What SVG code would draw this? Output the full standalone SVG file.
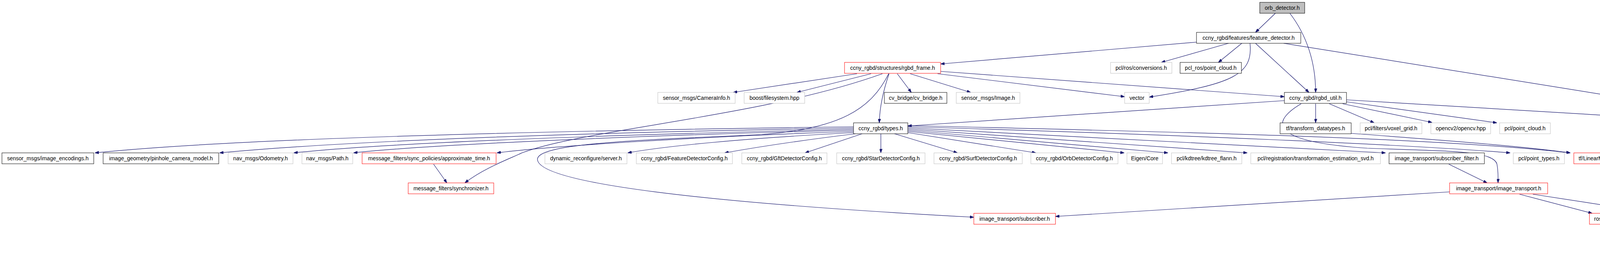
<svg xmlns="http://www.w3.org/2000/svg" width="5365" height="659" viewBox="0 0 5365 659">
<style>
rect{fill:#fff;stroke:#000;stroke-width:1}
.g rect{stroke:#bfbfbf}
.r rect{stroke:#ff0000}
.root rect{fill:#bfbfbf}
text{font-family:"Liberation Sans",Arial,sans-serif;font-size:14px;text-anchor:middle;fill:#000}
#edges path{fill:none;stroke:#191970;stroke-width:1.2;marker-end:url(#a)}
</style>
<defs>
<marker id="a" viewBox="0 0 10 7" markerWidth="10" markerHeight="7" refX="10" refY="3.5" orient="auto" markerUnits="userSpaceOnUse">
<path d="M0,0 L10,3.5 L0,7 z" fill="#191970" stroke="#191970"/>
</marker>
</defs>
<rect x="0" y="0" width="5365" height="659" style="stroke:none;fill:#fff"/>
<g id="edges">
<path d="M3265,34 L3214,83"/>
<path d="M3302,34 C3345,90 3368,160 3368,237"/>
<path d="M3063,108 L2408,164"/>
<path d="M3145,111 L2973,160"/>
<path d="M3179,111 L3119,160"/>
<path d="M3200,111 C3208,190 3160,215 2942,249"/>
<path d="M3214,111 L3351,237"/>
<path d="M3286,111 L4599,322"/>
<path d="M2194,189 L1877,237"/>
<path d="M2230,189 L2040,237"/>
<path d="M2276,189 C2262,230 2252,270 2251,315"/>
<path d="M2297,189 L2333,237"/>
<path d="M2330,189 L2485,237"/>
<path d="M2400,189 L2879,248"/>
<path d="M2408,183 L3288,248"/>
<path d="M2259,189 C1950,300 1500,330 1336,392 C1310,405 1240,430 1190,469"/>
<path d="M2275,189 C2230,280 2150,330 1950,345 C1600,360 1370,370 1376,410 C1385,470 1800,520 2493,557"/>
<path d="M2185,325 C1400,335 600,355 243,392"/>
<path d="M2185,328 C1500,340 900,360 562,392"/>
<path d="M2185,331 C1600,345 1000,365 752,392"/>
<path d="M2185,334 C1700,345 1100,370 905,392"/>
<path d="M2185,337 C1800,350 1400,375 1272,392"/>
<path d="M2185,340 C1900,355 1700,375 1607,392"/>
<path d="M2190,343 C2050,360 1950,375 1855,392"/>
<path d="M2207,343 L2061,392"/>
<path d="M2255,343 L2255,392"/>
<path d="M2290,343 L2451,392"/>
<path d="M2324,340 L2652,392"/>
<path d="M2324,337 L2878,392"/>
<path d="M2324,334 L2990,392"/>
<path d="M2324,331 L3193,392"/>
<path d="M2324,328 L3547,392"/>
<path d="M2324,325 C3000,345 3600,370 3866,392"/>
<path d="M2324,322 C3100,340 3700,355 4020,392"/>
<path d="M3288,258 L2324,323"/>
<path d="M3368,266 L3368,315"/>
<path d="M3403,266 L3518,315"/>
<path d="M3437,266 L3666,314"/>
<path d="M3447,261 L3832,315"/>
<path d="M3447,256 L4596,325"/>
<path d="M3331,266 C3240,320 3270,365 3500,380 C3700,388 3820,385 3832,420 C3836,440 3835,455 3835,469"/>
<path d="M3459,342 C3700,360 3900,375 4020,392"/>
<path d="M3709,421 L3807,469"/>
<path d="M3890,498 L4076,547"/>
<path d="M3924,498 L4260,550"/>
<path d="M3711,492 L2702,555"/>
<path d="M1110,421 L1144,469"/>
<path d="M4599,335 C4350,350 4200,430 4140,547"/>
<path d="M4599,338 C4450,360 4370,420 4326,547"/>
<path d="M4599,340 C4400,360 4300,400 4274,469"/>
<path d="M4599,341 L4472,392"/>
<path d="M4621,343 L4572,392"/>
<path d="M4635,343 C4640,400 4610,440 4552,469"/>
<path d="M4641,343 C4645,420 4630,480 4602,547"/>
<path d="M4647,343 L4723,547"/>
<path d="M4677,343 C4740,380 4790,420 4817,469"/>
<path d="M4679,340 C4780,400 4880,460 4933,547"/>
<path d="M4679,336 C4850,370 4950,400 4994,469"/>
<path d="M4679,332 C4950,380 5070,420 5062,500 C5055,600 4900,625 4655,636"/>
<path d="M4679,330 C5000,370 5150,400 5226,469"/>
<path d="M4502,400 L4318,467"/>
<path d="M4450,421 L4488,469"/>
<path d="M4544,421 L4526,469"/>
<path d="M4566,421 C4620,480 4520,560 4569,625"/>
<path d="M4429,421 C4425,520 4460,580 4533,626"/>
<path d="M4510,498 C4495,540 4505,590 4535,625"/>
<path d="M4447,496 L4184,547"/>
<path d="M4481,498 L4340,547"/>
<path d="M4530,498 L4580,547"/>
<path d="M4556,498 L4685,547"/>
<path d="M4254,498 C4225,580 4320,620 4537,634"/>
<path d="M4184,573 L4537,630"/>
<path d="M4369,575 L4537,622"/>
<path d="M4596,575 L4596,625"/>
<path d="M4707,575 L4624,625"/>
<path d="M4882,575 L4655,627"/>
<path d="M4833,498 C4838,560 4820,600 4655,630"/>
<path d="M5012,498 C5030,560 5020,600 4655,633"/>
<path d="M5228,498 C5160,580 5000,610 4655,632"/>
</g>
<g id="n0" class="root"><rect x="3225" y="6" width="115" height="28"/><text x="3282.5" y="25">orb_detector.h</text></g>
<g id="n1"><rect x="3063" y="83" width="267" height="28"/><text x="3196.5" y="102">ccny_rgbd/features/feature_detector.h</text></g>
<g id="n2" class="r"><rect x="2162" y="160" width="246" height="28"/><text x="2285" y="179">ccny_rgbd/structures/rgbd_frame.h</text></g>
<g id="n3" class="g"><rect x="2843" y="160" width="157" height="28"/><text x="2921.5" y="179">pcl/ros/conversions.h</text></g>
<g id="n4"><rect x="3021" y="160" width="157" height="28"/><text x="3099.5" y="179">pcl_ros/point_cloud.h</text></g>
<g id="n5" class="g"><rect x="1684" y="237" width="198" height="28"/><text x="1783" y="256">sensor_msgs/CameraInfo.h</text></g>
<g id="n6" class="g"><rect x="1905" y="237" width="155" height="28"/><text x="1982.5" y="256">boost/filesystem.hpp</text></g>
<g id="n7"><rect x="2264" y="237" width="160" height="28"/><text x="2344" y="256">cv_bridge/cv_bridge.h</text></g>
<g id="n8" class="g"><rect x="2448" y="237" width="163" height="28"/><text x="2529.5" y="256">sensor_msgs/Image.h</text></g>
<g id="n9" class="g"><rect x="2879" y="237" width="63" height="28"/><text x="2910.5" y="256">vector</text></g>
<g id="n10"><rect x="3288" y="237" width="159" height="28"/><text x="3367.5" y="256">ccny_rgbd/rgbd_util.h</text></g>
<g id="n11"><rect x="2185" y="315" width="139" height="28"/><text x="2254.5" y="334">ccny_rgbd/types.h</text></g>
<g id="n12"><rect x="3277" y="315" width="182" height="28"/><text x="3368" y="334">tf/transform_datatypes.h</text></g>
<g id="n13" class="g"><rect x="3482" y="315" width="158" height="28"/><text x="3561" y="334">pcl/filters/voxel_grid.h</text></g>
<g id="n14" class="g"><rect x="3663" y="315" width="153" height="28"/><text x="3739.5" y="334">opencv2/opencv.hpp</text></g>
<g id="n15" class="g"><rect x="3839" y="315" width="130" height="28"/><text x="3904" y="334">pcl/point_cloud.h</text></g>
<g id="n16"><rect x="4599" y="315" width="80" height="28"/><text x="4639" y="334">ros/ros.h</text></g>
<g id="n17"><rect x="5" y="392" width="235" height="28"/><text x="122.5" y="411">sensor_msgs/image_encodings.h</text></g>
<g id="n18"><rect x="264" y="392" width="296" height="28"/><text x="412" y="411">image_geometry/pinhole_camera_model.h</text></g>
<g id="n19" class="g"><rect x="584" y="392" width="166" height="28"/><text x="667" y="411">nav_msgs/Odometry.h</text></g>
<g id="n20" class="g"><rect x="773" y="392" width="130" height="28"/><text x="838" y="411">nav_msgs/Path.h</text></g>
<g id="n21" class="r"><rect x="927" y="392" width="343" height="28"/><text x="1098.5" y="411">message_filters/sync_policies/approximate_time.h</text></g>
<g id="n22" class="g"><rect x="1395" y="392" width="210" height="28"/><text x="1500" y="411">dynamic_reconfigure/server.h</text></g>
<g id="n23" class="g"><rect x="1629" y="392" width="246" height="28"/><text x="1752" y="411">ccny_rgbd/FeatureDetectorConfig.h</text></g>
<g id="n24" class="g"><rect x="1899" y="392" width="218" height="28"/><text x="2008" y="411">ccny_rgbd/GftDetectorConfig.h</text></g>
<g id="n25" class="g"><rect x="2142" y="392" width="226" height="28"/><text x="2255" y="411">ccny_rgbd/StarDetectorConfig.h</text></g>
<g id="n26" class="g"><rect x="2391" y="392" width="226" height="28"/><text x="2504" y="411">ccny_rgbd/SurfDetectorConfig.h</text></g>
<g id="n27" class="g"><rect x="2639" y="392" width="223" height="28"/><text x="2750.5" y="411">ccny_rgbd/OrbDetectorConfig.h</text></g>
<g id="n28" class="g"><rect x="2885" y="392" width="91" height="28"/><text x="2930.5" y="411">Eigen/Core</text></g>
<g id="n29" class="g"><rect x="2999" y="392" width="180" height="28"/><text x="3089" y="411">pcl/kdtree/kdtree_flann.h</text></g>
<g id="n30" class="g"><rect x="3202" y="392" width="332" height="28"/><text x="3368" y="411">pcl/registration/transformation_estimation_svd.h</text></g>
<g id="n31"><rect x="3556" y="392" width="244" height="28"/><text x="3678" y="411">image_transport/subscriber_filter.h</text></g>
<g id="n32" class="g"><rect x="3874" y="392" width="131" height="28"/><text x="3939.5" y="411">pcl/point_types.h</text></g>
<g id="n33" class="r"><rect x="4029" y="392" width="185" height="28"/><text x="4121.5" y="411">tf/LinearMath/Transform.h</text></g>
<g id="n34"><rect x="4389" y="392" width="89" height="28"/><text x="4433.5" y="411">ros/topic.h</text></g>
<g id="n35" class="r"><rect x="4500" y="392" width="104" height="28"/><text x="4552" y="411">ros/service.h</text></g>
<g id="n36" class="r"><rect x="1045" y="469" width="219" height="28"/><text x="1154.5" y="488">message_filters/synchronizer.h</text></g>
<g id="n37" class="r"><rect x="3711" y="469" width="251" height="28"/><text x="3836.5" y="488">image_transport/image_transport.h</text></g>
<g id="n38" class="r"><rect x="4212" y="469" width="103" height="28"/><text x="4263.5" y="488">ros/names.h</text></g>
<g id="n39" class="r"><rect x="4447" y="469" width="140" height="28"/><text x="4517" y="488">ros/node_handle.h</text></g>
<g id="n40" class="r"><rect x="4778" y="469" width="103" height="28"/><text x="4829.5" y="488">ros/master.h</text></g>
<g id="n41" class="r"><rect x="4954" y="469" width="100" height="28"/><text x="5004" y="488">ros/param.h</text></g>
<g id="n42" class="r"><rect x="5128" y="469" width="233" height="28"/><text x="5244.5" y="488">ros/single_subscriber_publisher.h</text></g>
<g id="n43" class="r"><rect x="2493" y="547" width="209" height="28"/><text x="2597.5" y="566">image_transport/subscriber.h</text></g>
<g id="n44" class="r"><rect x="4069" y="547" width="115" height="28"/><text x="4126.5" y="566">ros/publisher.h</text></g>
<g id="n45" class="r"><rect x="4258" y="547" width="123" height="28"/><text x="4319.5" y="566">ros/subscriber.h</text></g>
<g id="n46" class="r"><rect x="4557" y="547" width="78" height="28"/><text x="4596" y="566">ros/init.h</text></g>
<g id="n47" class="r"><rect x="4658" y="547" width="150" height="28"/><text x="4733" y="566">ros/service_server.h</text></g>
<g id="n48" class="r"><rect x="4882" y="547" width="121" height="28"/><text x="4942.5" y="566">ros/this_node.h</text></g>
<g id="n49" class="r"><rect x="4539" y="625" width="114" height="28"/><text x="4596" y="644">ros/common.h</text></g>
</svg>
